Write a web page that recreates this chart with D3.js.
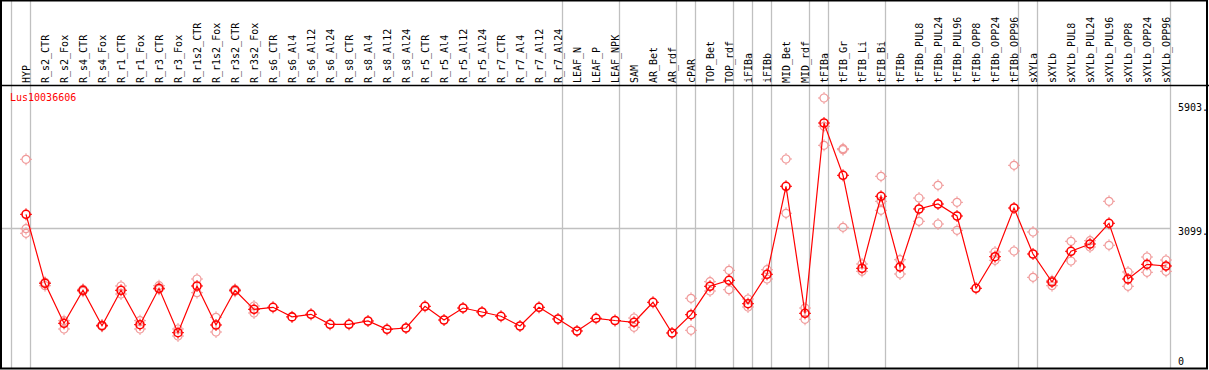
<!DOCTYPE html>
<html>
<head>
<meta charset="utf-8">
<script src="https://cdn.jsdelivr.net/npm/d3@7"></script>
<style>
  body { margin: 0; background: #fff; }
  svg { display: block; }
  text { font-family: "DejaVu Sans Mono", monospace; font-size: 10px; }
</style>
</head>
<body>
<svg></svg>
<script>
let categories = ["HYP","R_s2_CTR","R_s2_Fox","R_s4_CTR","R_s4_Fox","R_r1_CTR","R_r1_Fox","R_r3_CTR","R_r3_Fox",
  "R_r1s2_CTR","R_r1s2_Fox","R_r3s2_CTR","R_r3s2_Fox","R_s6_CTR","R_s6_Al4","R_s6_Al12","R_s6_Al24",
  "R_s8_CTR","R_s8_Al4","R_s8_Al12","R_s8_Al24","R_r5_CTR","R_r5_Al4","R_r5_Al12","R_r5_Al24",
  "R_r7_CTR","R_r7_Al4","R_r7_Al12","R_r7_Al24","LEAF_N","LEAF_P","LEAF_NPK","SAM","AR_Bet","AR_rdf",
  "cPAR","TOP_Bet","TOP_rdf","iFIBa","iFIBb","MID_Bet","MID_rdf","tFIBa","tFIB_Gr","tFIB_Li","tFIB_Bi",
  "tFIBb","tFIBb_PUL8","tFIBb_PUL24","tFIBb_PUL96","tFIBb_OPP8","tFIBb_OPP24","tFIBb_OPP96",
  "sXYLa","sXYLb","sXYLb_PUL8","sXYLb_PUL24","sXYLb_PUL96","sXYLb_OPP8","sXYLb_OPP24","sXYLb_OPP96"]

let means = [3414,1861,961,1704,907,1704,930,1749,750,
  1801,923,1704,1276,1321,1105,1164,939,
  939,1013,826,855,1344,1035,1305,1215,
  1119,900,1321,1058,788,1074,1024,984,1434,743,
  1155,1794,1929,1402,2064,4045,1186,5469,4292,2199,3819,
  2228,3534,3646,3376,1749,2460,3556,
  2521,1891,2582,2746,3212,1958,2289,2251]

let replicates = [[4652,3090,2987],[1884,1807],[1020,833],[1726,1681],[923,894],[1801,1620],[1020,833],[1807,1726],[833,675],
  [1958,1650],[1096,765],[1726,1681],[1350,1193],[],[],[],[],
  [],[],[],[],[],[],[],[],
  [],[],[],[],[],[],[],[1080,871],[],[],
  [1524,804],[1897,1688],[2154,1717],[1508,1328],[2167,1958],[4659,3437],[1305,1051],[6032,5395,4967],[4891,4868,3122],[2296,2131],[4270,3707,3504],
  [2392,2071],[3781,3257],[4067,3196],[3684,3054],[],[2566,2379],[4517,2588],
  [3016,1996],[1920,1807],[2807,2363],[2820,2678],[3707,2717],[2116,1794],[2453,2109],[2386,2131]]

// index of first column of each group (vertical separators)
let groupStarts = [0,1,29,32,35,36,38,39,40,42,43,46,53,54,61]
let axisTicks = [0,3099,5903]
let geneName = "Lus10036606"

let width = 1209
let height = 370
let headerBottom = 86
let plotBottom = 368

let svg = d3.select('svg').attr('width', width).attr('height', height)

let x = d3.scaleBand().domain(categories).range([11.5, 11.5 + 19*categories.length])
let y = d3.scaleLinear().domain([0, 6302]).range([366, headerBottom])
let px = (d) => x(d) + 14.5

// grey grid
svg.selectAll('.vgrid').data(groupStarts).enter().append('line')
   .attr('x1', d => 11.5 + x.step()*d).attr('x2', d => 11.5 + x.step()*d)
   .attr('y1', 0).attr('y2', plotBottom)
   .attr('stroke', '#c0c0c0').attr('stroke-width', 1.3)

svg.append('line')
   .attr('x1', 0).attr('x2', 11.5 + x.step()*61)
   .attr('y1', Math.round(y(3099)) + 0.5).attr('y2', Math.round(y(3099)) + 0.5)
   .attr('stroke', '#c0c0c0').attr('stroke-width', 1.3)

// frame
svg.append('rect').attr('x', 1).attr('y', 0.5).attr('width', 1206).attr('height', 368)
   .attr('fill', 'none').attr('stroke', '#000').attr('stroke-width', 2)
svg.append('line').attr('x1', 0).attr('x2', width).attr('y1', 85.5).attr('y2', 85.5)
   .attr('stroke', '#000').attr('stroke-width', 1.5)

// header labels
svg.selectAll('.lab').data(categories).enter().append('text')
   .attr('transform', d => `translate(${px(d) + 4},83) rotate(-90)`)
   .attr('fill', '#000')
   .text(d => d)

// right axis labels
svg.selectAll('.tick').data(axisTicks).enter().append('text')
   .attr('x', 1178)
   .attr('y', d => d === 0 ? 365 : y(d) + 7)
   .attr('fill', '#000')
   .text(d => d === 0 ? '0' : d + '.')

svg.append('text').attr('x', 10).attr('y', 101).attr('fill', 'red').text(geneName)

let marker = (g, color, sw) => {
  g.append('circle').attr('r', 4).attr('fill', 'none').attr('stroke', color).attr('stroke-width', sw)
  ;[[0,-6,0,-4],[0,4,0,6],[-6,0,-4,0],[4,0,6,0]].forEach(s => {
    g.append('line').attr('x1', s[0]).attr('y1', s[1]).attr('x2', s[2]).attr('y2', s[3])
     .attr('stroke', color).attr('stroke-width', 1)
  })
}

// replicate points
let reps = []
replicates.forEach((r, i) => r.forEach(v => reps.push([categories[i], v])))
svg.selectAll('.rep').data(reps).enter().append('g')
   .attr('transform', d => `translate(${px(d[0])},${y(d[1])})`)
   .each(function() { marker(d3.select(this), '#f09a9a', 1.2) })

// mean line
let line = d3.line().x((d, i) => px(categories[i])).y(d => y(d))
svg.append('path').datum(means).attr('d', line)
   .attr('fill', 'none').attr('stroke', 'red').attr('stroke-width', 1.2)

svg.selectAll('.mean').data(means).enter().append('g')
   .attr('transform', (d, i) => `translate(${px(categories[i])},${y(d)})`)
   .each(function() { marker(d3.select(this), 'red', 1.6) })
</script>
</body>
</html>
